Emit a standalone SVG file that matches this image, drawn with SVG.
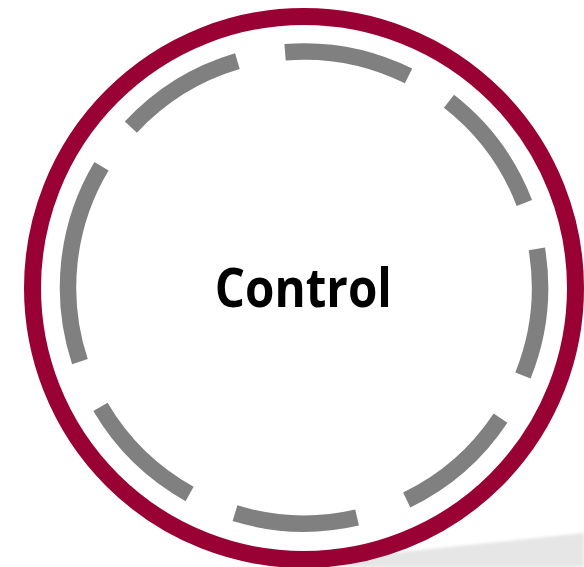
<svg xmlns="http://www.w3.org/2000/svg" width="584" height="567" viewBox="0 0 584 567">
  <defs>
    <filter id="soft" x="-10%" y="-50%" width="120%" height="200%">
      <feGaussianBlur stdDeviation="1.5"/>
    </filter>
  </defs>
  <style>
    .ring { fill: #ffffff; stroke: #990033; stroke-width: 17; }
    .dash { fill: none; stroke: #808080; stroke-width: 16.5; stroke-linecap: butt; }
    .label { font-family: "Open Sans", "Liberation Sans", sans-serif; font-weight: 700; font-size: 54px; fill: #000000; }
  </style>
  <rect x="0" y="0" width="584" height="567" fill="#ffffff"/>
  <g id="shadow">
    <path d="M 300 567 L 300 562 Q 450 547 584 533 L 584 567 Z" fill="#e6e6e6" filter="url(#soft)"/>
  </g>
  <g id="control">
    <circle class="ring" cx="304" cy="288" r="271.5"/>
    <g id="dashed-ring">
      <path class="dash" d="M 285.07 52.26 A 236 236 0 0 1 408.57 75.93"/>
      <path class="dash" d="M 448.97 101.27 A 236 236 0 0 1 524.33 202.92"/>
      <path class="dash" d="M 536.83 248.96 A 236 236 0 0 1 522.96 375.53"/>
      <path class="dash" d="M 500.56 418.10 A 236 236 0 0 1 406.71 499.97"/>
      <path class="dash" d="M 357.10 517.46 A 236 236 0 0 1 234.99 513.19"/>
      <path class="dash" d="M 189.59 493.91 A 236 236 0 0 1 100.45 406.92"/>
      <path class="dash" d="M 79.94 361.60 A 236 236 0 0 1 101.49 166.31"/>
      <path class="dash" d="M 130.85 127.16 A 236 236 0 0 1 237.38 61.11"/>
    </g>
    <text class="label" x="303.3" y="307" text-anchor="middle" textLength="177" lengthAdjust="spacingAndGlyphs">Control</text>
  </g>
</svg>
